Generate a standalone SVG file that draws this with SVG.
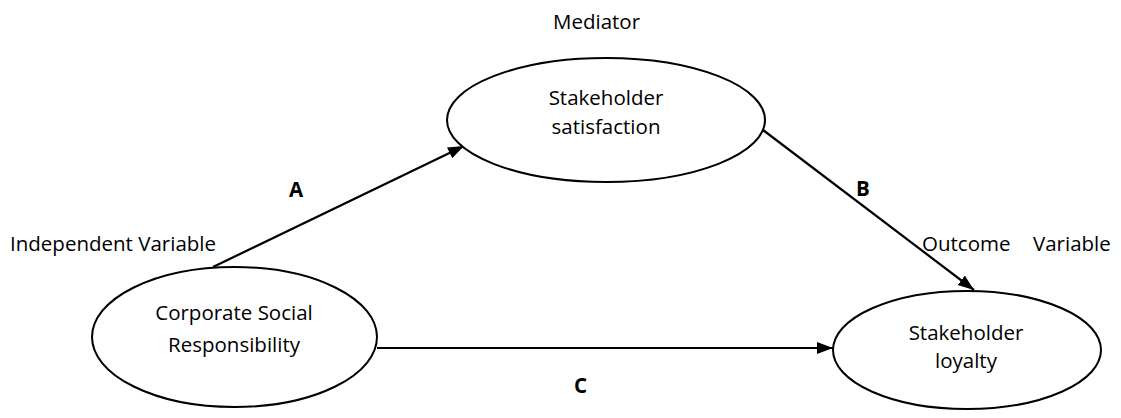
<svg xmlns="http://www.w3.org/2000/svg" width="1121" height="418" viewBox="0 0 1121 418">
<style>
.node{fill:#fff;stroke:#000;stroke-width:2}
.t{font-family:"Open Sans","Liberation Sans",sans-serif;font-size:20.5px;fill:#000}
.c{text-anchor:middle}
.b{font-weight:bold}
.edge{fill:none;stroke:#000;stroke-width:2.2}
</style>
<defs>
<marker id="arr" markerUnits="userSpaceOnUse" markerWidth="18" markerHeight="14" refX="16" refY="6" orient="auto">
<path d="M0,0 L16,6 L0,12 z" fill="#000"/>
</marker>
</defs>
<rect width="1121" height="418" fill="#fff"/>
<g id="connectors">
<path class="edge" d="M213,267 L464,146" marker-end="url(#arr)"/>
<path class="edge" d="M763,130 L974,290" marker-end="url(#arr)"/>
<path class="edge" d="M377,348 L833,348" marker-end="url(#arr)"/>
</g>
<g id="node-mediator">
<ellipse class="node" cx="606" cy="120" rx="159" ry="62"/>
<text class="t c" x="606" y="105">Stakeholder</text>
<text class="t c" x="606" y="134">satisfaction</text>
</g>
<g id="node-csr">
<ellipse class="node" cx="234.5" cy="337" rx="142.5" ry="70"/>
<text class="t c" x="234" y="320">Corporate Social</text>
<text class="t c" x="234" y="352">Responsibility</text>
</g>
<g id="node-loyalty">
<ellipse class="node" cx="967" cy="350" rx="134" ry="59"/>
<text class="t c" x="966" y="340">Stakeholder</text>
<text class="t c" x="966" y="368">loyalty</text>
</g>
<g id="labels">
<text class="t" x="553" y="29">Mediator</text>
<text class="t" x="10" y="251">Independent Variable</text>
<text class="t" x="922" y="251"><tspan>Outcome</tspan><tspan x="1033">Variable</tspan></text>
<text class="t b" x="289" y="197">A</text>
<text class="t b" x="856" y="196">B</text>
<text class="t b" x="574" y="393">C</text>
</g>
</svg>
